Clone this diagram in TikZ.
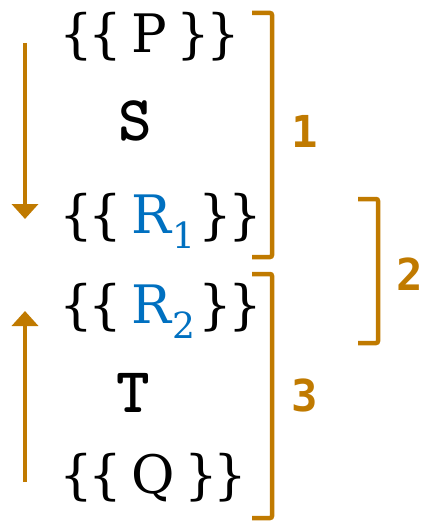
\documentclass[tikz,border=0pt]{standalone}
\usepackage{fontspec}
\setmainfont{DejaVu Serif}
\newfontfamily\digbf{DejaVu Sans Mono}
\usetikzlibrary{arrows.meta}
\definecolor{ochre}{RGB}{192,122,0}
\definecolor{rblue}{RGB}{0,112,192}
\tikzset{
  row/.style={anchor=base west, inner sep=0pt, font=\fontsize{53}{60}\selectfont},
  kw/.style={anchor=base, inner sep=0pt, font=\ttfamily\bfseries\fontsize{64}{70}\selectfont},
  num/.style={inner sep=0pt, text=ochre, font=\digbf\bfseries\fontsize{44}{50}\selectfont},
  brk/.style={draw=ochre, line width=4.5pt, rounded corners=2pt},
  flow/.style={draw=ochre, line width=4pt, -{Triangle[width=26pt,length=15pt]}}
}
\newcommand{\sbs}[1]{\raisebox{-0.3em}{\fontsize{36}{40}\selectfont #1}}
\newcommand{\lb}{\{\kern-4pt\{\kern9pt}
\newcommand{\rb}[1][9pt]{\kern#1\}\kern-4pt\}}
\begin{document}
\begin{tikzpicture}[x=1pt,y=-1pt]
\useasboundingbox (0,0) rectangle (423,524);
% text rows
\node[row] (p)  at (59,53)  {\lb P\rb};
\node[kw]  (s)  at (135,140) {S};
\node[row] (r1) at (59,233) {\lb\textcolor{rblue}{R\kern1pt\sbs{1}}\rb[3pt]};
\node[row] (r2) at (59,323) {\lb\textcolor{rblue}{R\kern1pt\sbs{2}}\rb[3pt]};
\node[kw]  (t)  at (133,412) {T};
\node[row] (q)  at (59,493) {\lb Q\rb};
% arrows
\coordinate (a1s) at (25,43);
\coordinate (a1e) at (25,219);
\coordinate (a2s) at (25,482);
\coordinate (a2e) at (25,311);
\draw[flow] (a1s) -- (a1e);
\draw[flow] (a2s) -- (a2e);
% brackets
\draw[brk] (252,13) -- (272,13) -- (272,257) -- (252,257);
\draw[brk] (358,199) -- (378,199) -- (378,343) -- (358,343);
\draw[brk] (252,274) -- (272,274) -- (272,518) -- (252,518);
% labels
\node[num] (n1) at (305,131) {1};
\node[num] (n2) at (410,274) {2};
\node[num] (n3) at (305,395) {3};
\end{tikzpicture}
\end{document}
